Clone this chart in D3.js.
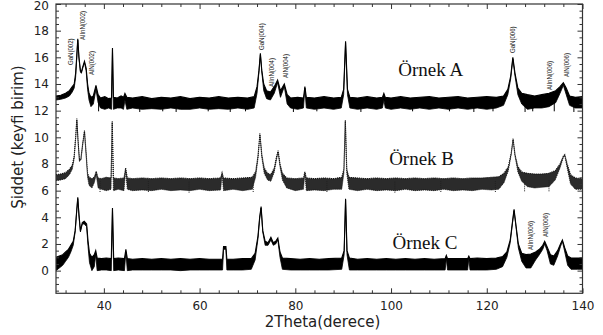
<!DOCTYPE html>
<html><head><meta charset="utf-8">
<script src="https://cdn.jsdelivr.net/npm/d3@7"></script>
<style>html,body{margin:0;padding:0;background:#fff;}svg{display:block;}</style>
</head><body><svg id="c" width="603" height="335"></svg>
<script>
// ---- data (2θ, upper edge of trace, lower edge of trace) ----
const seriesA = [
[30,13.1,12.8],[31,13.15,12.85],[32,13.3,12.95],[32.8,13.5,13.1],[33.4,13.8,13.4],[33.8,14.0,13.7],[34.1,14.8,14.5],[34.35,16.2,16.0],[34.55,17.4,17.3],[34.8,16.0,15.9],[35.1,15.0,14.9],[35.3,14.9,14.8],[35.6,15.3,15.2],[35.95,15.7,15.6],[36.3,15.2,15.0],[36.6,14.0,13.6],[36.9,13.3,12.8],[37.3,13.0,12.3],[37.8,13.1,12.5],[38.35,13.9,13.6],[38.8,13.2,12.6],[39.3,12.95,12.2],[40.2,13.05,12.1],[41.0,12.9,12.2],[41.6,12.95,12.1],[41.8,16.7,16.6],[42.0,13.0,12.1],[42.8,12.95,12.2],[43.6,13.1,12.2],[44.1,13.0,12.1],[44.4,13.3,12.8],[44.8,13.0,12.1],[46,12.95,12.2],[48,13.05,12.1],[50,12.9,12.15],[52,13.0,12.1],[54,12.95,12.2],[56,13.05,12.1],[58,12.9,12.1],[60,13.0,12.2],[62,12.95,12.1],[64,13.05,12.15],[66,12.95,12.1],[68,13.0,12.2],[70,12.95,12.1],[71.4,13.05,12.2],[72.0,13.8,13.3],[72.4,15.0,14.9],[72.7,16.3,16.2],[73.0,15.0,14.9],[73.4,14.0,13.5],[74.0,13.5,12.9],[74.8,13.4,12.8],[75.6,13.8,13.3],[76.3,14.3,14.1],[76.9,13.5,13.0],[77.7,14.0,13.8],[78.3,13.2,12.5],[79,12.95,12.2],[80.5,13.0,12.1],[81.7,12.95,12.2],[82.0,13.8,13.7],[82.3,13.0,12.2],[84,12.95,12.1],[86,13.05,12.2],[88,12.95,12.1],[89.6,13.0,12.2],[90.1,13.6,13.2],[90.5,17.2,17.1],[90.9,13.6,13.2],[91.4,13.0,12.2],[93,12.95,12.1],[95,13.05,12.2],[97,12.95,12.1],[98.2,13.0,12.2],[98.5,13.3,12.8],[98.8,13.0,12.2],[100,12.95,12.1],[102,13.05,12.2],[104,12.95,12.1],[106,13.0,12.2],[108,13.05,12.1],[110,12.95,12.2],[112,13.0,12.1],[114,13.05,12.2],[116,12.95,12.1],[118,13.0,12.2],[120,13.05,12.1],[122,13.0,12.2],[123.5,13.1,12.4],[124.4,13.6,13.2],[125.0,14.6,14.4],[125.45,16.0,15.9],[125.9,14.8,14.6],[126.5,13.7,13.2],[127.3,13.3,12.5],[128.5,13.2,12.1],[130,13.1,12.2],[131.5,13.2,12.2],[133,13.3,12.3],[134.4,13.5,12.6],[135.3,13.8,13.3],[136.0,14.1,13.9],[136.6,13.7,13.2],[137.3,13.1,12.4],[138.5,13.0,12.2],[140,13.05,12.2]
];
const seriesB = [
[30,7.2,6.75],[31,7.25,6.8],[32,7.35,6.9],[32.8,7.6,7.2],[33.4,7.9,7.6],[33.8,8.6,8.4],[34.1,10.0,9.9],[34.35,11.4,11.3],[34.6,9.8,9.7],[34.9,8.3,8.2],[35.2,8.4,8.3],[35.6,9.6,9.5],[35.95,10.5,10.4],[36.3,8.8,8.6],[36.6,7.3,7.0],[36.9,7.0,6.4],[37.5,6.9,6.2],[38.0,7.0,6.6],[38.4,7.45,7.2],[38.8,6.95,6.2],[39.5,6.9,6.1],[40.5,7.0,6.0],[41.5,6.95,6.1],[41.75,11.2,11.1],[42.0,6.95,6.0],[43,6.9,6.1],[44.2,6.95,6.0],[44.55,7.7,7.5],[44.9,6.95,6.1],[46,6.9,6.0],[48,6.95,6.05],[50,6.9,6.0],[52,6.95,6.1],[54,6.9,6.0],[56,6.95,6.05],[58,6.9,6.0],[60,6.95,6.1],[62,6.9,6.0],[64.4,6.95,6.05],[64.7,7.35,7.2],[65.0,6.95,6.0],[67,6.9,6.1],[69,6.95,6.0],[71,7.0,6.1],[71.7,7.4,7.0],[72.2,8.6,8.4],[72.6,10.3,10.2],[73.0,8.7,8.5],[73.5,7.7,7.3],[74.2,7.3,6.8],[74.9,7.2,6.7],[75.6,7.7,7.4],[76.05,8.5,8.3],[76.4,9.0,8.9],[76.8,8.0,7.8],[77.3,7.3,6.8],[78.2,6.95,6.2],[80,6.9,6.0],[81.7,6.95,6.1],[82.0,7.4,7.3],[82.3,6.95,6.0],[84,6.9,6.05],[86,6.95,6.0],[88,6.9,6.1],[89.7,7.0,6.1],[90.15,7.6,7.3],[90.45,11.3,11.2],[90.75,7.6,7.3],[91.2,7.0,6.1],[93,6.95,6.0],[95,6.9,6.1],[97,6.95,6.0],[99,6.9,6.05],[101,6.95,6.0],[103,6.9,6.1],[105,6.95,6.0],[107,6.9,6.05],[109,6.95,6.0],[111,6.9,6.1],[113,6.95,6.0],[115,6.9,6.05],[117,6.95,6.0],[119,6.95,6.1],[121,7.0,6.05],[122.5,7.05,6.1],[123.6,7.3,6.6],[124.5,7.8,7.5],[125.1,8.8,8.7],[125.5,9.9,9.8],[125.9,8.7,8.6],[126.5,7.8,7.4],[127.3,7.4,6.7],[128.5,7.3,6.3],[130,7.25,6.2],[131.5,7.25,6.25],[133,7.3,6.3],[134.3,7.5,6.8],[135.3,8.0,7.7],[136.0,8.6,8.5],[136.3,8.7,8.6],[136.8,8.0,7.7],[137.5,7.2,6.5],[138.5,6.95,6.1],[140,6.9,6.1]
];
const seriesC = [
[30,1.0,0.0],[30.7,1.1,0.2],[31.4,1.2,0.4],[32.0,1.4,0.7],[32.6,1.6,1.0],[33.1,1.9,1.4],[33.6,2.2,1.9],[34.0,3.0,2.9],[34.3,4.4,4.3],[34.55,5.5,5.4],[34.8,4.2,4.1],[35.1,3.0,2.9],[35.5,3.6,3.5],[35.9,3.7,3.5],[36.4,3.5,3.3],[36.7,2.2,1.8],[37.0,1.3,0.6],[37.5,1.0,0.0],[38.0,1.2,0.3],[38.3,1.5,1.2],[38.6,0.95,0.0],[39.5,0.9,0.05],[40.5,0.95,0.05],[41.55,0.9,0.0],[41.8,4.7,4.6],[42.05,0.9,0.0],[43,0.95,0.05],[44.3,0.9,0.0],[44.6,1.6,1.4],[44.9,0.9,0.0],[46,0.85,0.05],[48,0.9,0.05],[50,0.85,0.05],[52,0.9,0.05],[54,0.85,0.05],[56,0.9,0.0],[58,0.85,0.05],[60,0.9,0.05],[62,0.85,0.05],[64.8,0.85,0.05],[65.0,1.8,1.6],[65.5,1.8,1.6],[65.7,0.85,0.05],[67,0.85,0.05],[69,0.9,0.05],[70.8,0.9,0.1],[71.6,1.3,0.8],[72.2,2.6,2.4],[72.55,4.0,3.9],[72.85,4.8,4.7],[73.2,3.0,2.9],[73.7,2.2,1.9],[74.3,2.1,1.9],[74.9,2.5,2.3],[75.4,2.1,1.9],[75.9,2.2,2.0],[76.35,2.45,2.3],[76.8,1.4,1.0],[77.3,0.95,0.1],[79,0.9,0.05],[81,0.85,0.05],[83,0.9,0.05],[85,0.85,0.05],[87,0.9,0.05],[89.7,0.95,0.1],[90.2,1.5,1.2],[90.5,5.4,5.3],[90.8,1.5,1.2],[91.3,0.95,0.05],[93,0.85,0.05],[95,0.9,0.05],[97,0.85,0.05],[99,0.9,0.05],[101,0.85,0.05],[103,0.9,0.05],[105,0.85,0.05],[107,0.9,0.05],[109,0.85,0.05],[111.3,0.9,0.05],[111.55,1.15,0.9],[111.8,0.9,0.05],[114,0.9,0.05],[116.0,0.9,0.05],[116.25,1.1,0.9],[116.5,0.9,0.05],[118,0.95,0.05],[120,0.9,0.05],[122,0.95,0.1],[123.3,1.05,0.3],[124.2,1.4,1.0],[124.9,2.3,2.1],[125.35,3.6,3.5],[125.7,4.6,4.5],[126.1,3.4,3.3],[126.6,2.0,1.7],[127.3,1.3,0.7],[128.2,1.2,0.2],[129.2,1.25,0.2],[130.2,1.4,0.8],[131.0,1.6,1.2],[131.7,1.9,1.6],[132.1,2.2,2.0],[132.6,1.8,1.5],[133.3,1.2,0.5],[134.0,1.1,0.4],[134.8,1.5,1.1],[135.4,2.0,1.8],[135.8,2.3,2.2],[136.3,1.7,1.4],[136.9,1.1,0.4],[137.6,0.95,0.1],[139,0.95,0.1],[140,0.95,0.1]
];
// downward noise dropouts: (2θ, lowest intensity)
const dropsA = [[38.9,11.95],[47.5,11.9],[52.3,11.95],[55.1,11.9],[61.8,11.95],[66.4,11.9],[69.6,11.95],[79.6,11.9],[84.5,11.95],[93.7,11.9],[104.5,11.95],[112.2,11.95],[117.3,11.9],[121.3,11.95],[128.0,11.9],[129.6,11.95],[134.1,11.95],[138.2,11.9]];
const dropsB = [[39.2,5.9],[49.3,5.9],[57.8,5.85],[71.2,5.9],[86.6,5.9],[100.8,5.85],[110.4,5.9],[121.8,5.9],[127.9,5.95],[133.0,5.95]];
const sampleNames = ["Örnek A", "Örnek B", "Örnek C"];
const sampleLabelAnchors = [[101.5, 14.6], [99.6, 7.9], [100.3, 1.65]]; // (2θ, intensity)
const peakLabels = ["GaN(002)", "AlInN(002)", "AlN(002)", "GaN(004)", "AlInN(004)", "AlN(004)", "GaN(006)", "AlInN(006)", "AlN(006)", "AlInN(006)", "AlN(006)"];
const peakLabelX = [33.45, 36.16, 38.04, 73.36, 75.45, 78.37, 126.0, 133.53, 137.08, 129.66, 132.69];
const peakLabelY = [15.42, 17.3, 14.67, 16.55, 13.77, 14.45, 16.32, 13.55, 14.52, 1.55, 2.52];
const xMajorTicks = [40, 60, 80, 100, 120, 140];
const yMajorTicks = [0, 2, 4, 6, 8, 10, 12, 14, 16, 18, 20];
const xTitle = "2Theta(derece)";
const yTitle = "Şiddet (keyfi birim)";

// ---- chart ----
const svg = d3.select("#c");
const L = 56, R = 582.5, T = 4, B = 293.3;
const x = d3.scaleLinear().domain([30, 140]).range([L, R]);
const y = d3.scaleLinear().domain([-1.7, 20]).range([B, T]);

const xMinor = d3.range(32, 141, 4).filter(v => !xMajorTicks.includes(v));
const yMinor = d3.range(-1.5, 20.01, 0.5).filter(v => Math.abs(v % 2) > 1e-6);

const styles = [
  {fill: "#000", stroke: "#000", dash: null},
  {fill: "#2b2b2b", stroke: "#111", dash: "1.2,0.8"},
  {fill: "#000", stroke: "#000", dash: null}
];
[seriesA, seriesB, seriesC].forEach((s, i) => {
  const st = styles[i];
  svg.append("path").datum(s)
    .attr("d", d3.area().x(d => x(d[0])).y0(d => y(d[2])).y1(d => y(d[1])))
    .attr("fill", st.fill);
  svg.append("path").datum(s)
    .attr("d", d3.line().x(d => x(d[0])).y(d => y(d[1])))
    .attr("fill", "none").attr("stroke", st.stroke).attr("stroke-width", 1.1)
    .attr("stroke-dasharray", st.dash);
  svg.append("path").datum(s)
    .attr("d", d3.line().x(d => x(d[0])).y(d => y(d[2])))
    .attr("fill", "none").attr("stroke", st.stroke).attr("stroke-width", 0.8)
    .attr("stroke-dasharray", st.dash);
});
[[dropsA, "#000", null], [dropsB, "#222", "1,1"]].forEach(([drops, col, dash]) => {
  svg.append("g").selectAll("line").data(drops).join("line")
    .attr("x1", d => x(d[0])).attr("x2", d => x(d[0]))
    .attr("y1", d => y(d[1])).attr("y2", d => y(d[1] + 0.9))
    .attr("stroke", col).attr("stroke-width", 1).attr("stroke-dasharray", dash);
});

// axes
const axisColor = "#333";
function styleAxis(g) {
  g.select(".domain").remove();
  g.selectAll("line").attr("stroke", axisColor);
  g.selectAll("text").attr("fill", "#222").style("font-family", "DejaVu Sans").style("font-size", "12px");
}
svg.append("g").attr("transform", `translate(0,${B})`)
  .call(d3.axisBottom(x).tickValues(xMajorTicks).tickSize(-5).tickPadding(8).tickFormat(d3.format("d"))).call(styleAxis);
svg.append("g").attr("transform", `translate(0,${B})`)
  .call(d3.axisBottom(x).tickValues(xMinor).tickSize(-3).tickFormat("")).call(styleAxis);
svg.append("g").attr("transform", `translate(0,${T})`)
  .call(d3.axisTop(x).tickValues(xMajorTicks).tickSize(-5).tickFormat("")).call(styleAxis);
svg.append("g").attr("transform", `translate(0,${T})`)
  .call(d3.axisTop(x).tickValues(xMinor).tickSize(-3).tickFormat("")).call(styleAxis);
const yAxisG = svg.append("g").attr("transform", `translate(${L},0)`)
  .call(d3.axisLeft(y).tickValues(yMajorTicks).tickSize(-5).tickPadding(7).tickFormat(d3.format("d"))).call(styleAxis);
yAxisG.selectAll(".tick text").filter(d => d === 20).attr("dy", "0.45em");
svg.append("g").attr("transform", `translate(${L},0)`)
  .call(d3.axisLeft(y).tickValues(yMinor).tickSize(-3).tickFormat("")).call(styleAxis);
svg.append("g").attr("transform", `translate(${R},0)`)
  .call(d3.axisRight(y).tickValues(yMajorTicks).tickSize(-5).tickFormat("")).call(styleAxis);
svg.append("g").attr("transform", `translate(${R},0)`)
  .call(d3.axisRight(y).tickValues(yMinor).tickSize(-3).tickFormat("")).call(styleAxis);

svg.append("rect").attr("x", L).attr("y", T).attr("width", R - L).attr("height", B - T)
  .attr("fill", "none").attr("stroke", axisColor).attr("stroke-width", 1.2);

// titles
svg.append("text").attr("x", 322.5).attr("y", 327).attr("text-anchor", "middle")
  .style("font-family", "DejaVu Sans").style("font-size", "15px").attr("fill", "#222").text(xTitle);
svg.append("text").attr("transform", "translate(23,137) rotate(-90)").attr("text-anchor", "middle")
  .style("font-family", "DejaVu Sans").style("font-size", "15px").attr("fill", "#222").text(yTitle);

// sample names
sampleNames.forEach((n, i) => {
  svg.append("text").attr("x", x(sampleLabelAnchors[i][0])).attr("y", y(sampleLabelAnchors[i][1]))
    .style("font-family", "Liberation Serif").style("font-size", "19px").attr("fill", "#111").text(n);
});

// peak labels
peakLabels.forEach((n, i) => {
  svg.append("text")
    .attr("transform", `translate(${x(peakLabelX[i])},${y(peakLabelY[i])}) rotate(-90) scale(0.78,1)`)
    .style("font-family", "Liberation Sans").style("font-size", "7.8px").attr("fill", "#222").text(n);
});
</script></body></html>
